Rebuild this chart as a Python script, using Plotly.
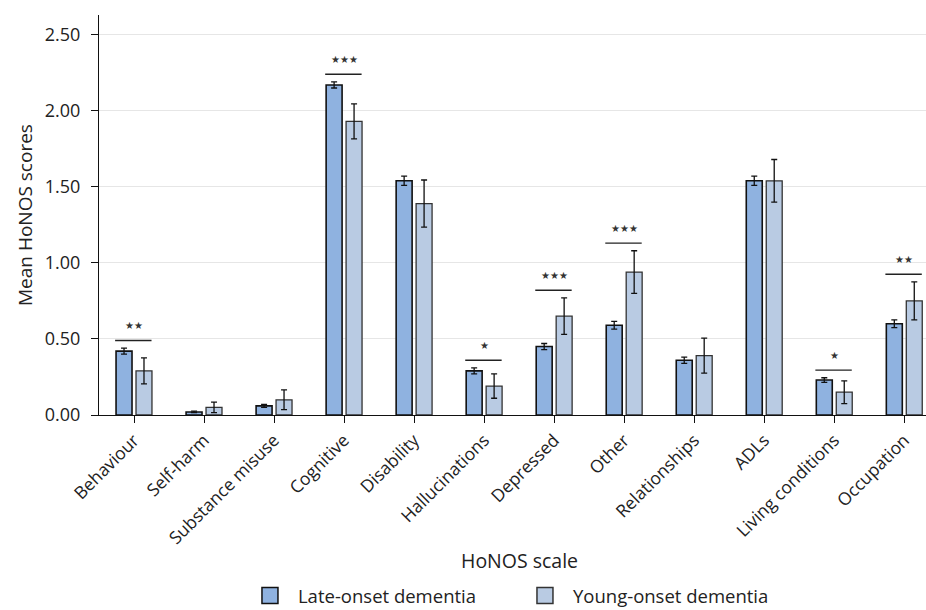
import plotly.graph_objects as go

categories = ["Behaviour", "Self-harm", "Substance misuse", "Cognitive", "Disability",
              "Hallucinations", "Depressed", "Other", "Relationships", "ADLs",
              "Living conditions", "Occupation"]
late_mean = [0.42, 0.02, 0.06, 2.17, 1.54, 0.29, 0.45, 0.59, 0.36, 1.54, 0.23, 0.60]
late_err = [0.02, 0.005, 0.01, 0.02, 0.03, 0.02, 0.02, 0.025, 0.02, 0.03, 0.015, 0.025]
young_mean = [0.29, 0.05, 0.10, 1.93, 1.39, 0.19, 0.65, 0.94, 0.39, 1.54, 0.15, 0.75]
young_err = [0.085, 0.035, 0.065, 0.115, 0.155, 0.08, 0.12, 0.14, 0.115, 0.14, 0.075, 0.125]
sig_categories = ["Behaviour", "Cognitive", "Hallucinations", "Depressed", "Other",
                  "Living conditions", "Occupation"]
sig_labels = ["★★", "★★★", "★", "★★★", "★★★", "★", "★★"]
y_ticks = [0.0, 0.5, 1.0, 1.5, 2.0, 2.5]

FONT = "Open Sans"
TXT = "#222222"
LATE_COLOR = "#8FB2E0"
YOUNG_COLOR = "#B9CBE3"

fig = go.Figure()
fig.add_trace(go.Bar(
    name="Late-onset dementia", x=categories, y=late_mean, showlegend=False,
    marker=dict(color=LATE_COLOR, line=dict(color="#111111", width=1.6)),
    error_y=dict(type="data", array=late_err, color="#111111", thickness=1.3, width=3),
))
fig.add_trace(go.Bar(
    name="Young-onset dementia", x=categories, y=young_mean, showlegend=False,
    marker=dict(color=YOUNG_COLOR, line=dict(color="#333333", width=1.3)),
    error_y=dict(type="data", array=young_err, color="#111111", thickness=1.3, width=3),
))
# legend-only entries (bigger square swatches)
for nm, col, lc in [("Late-onset dementia", LATE_COLOR, "#111111"),
                    ("Young-onset dementia", YOUNG_COLOR, "#333333")]:
    fig.add_trace(go.Scatter(x=[None], y=[None], mode="markers", name=nm,
                             marker=dict(symbol="square", size=20, color=col,
                                         line=dict(color=lc, width=1.5))))

shapes = []
annotations = []
for cat, lab in zip(sig_categories, sig_labels):
    i = categories.index(cat)
    top = max(late_mean[i] + late_err[i], young_mean[i] + young_err[i]) + 0.05
    shapes.append(dict(type="line", xref="x", yref="y", x0=i - 0.27, x1=i + 0.25,
                       y0=top, y1=top, line=dict(color="#222222", width=1.4)))
    annotations.append(dict(x=i, y=top, xref="x", yref="y", text=lab, showarrow=False,
                            yanchor="bottom", yshift=7,
                            font=dict(family="DejaVu Sans", size=10, color="#333333")))

annotations.append(dict(text="HoNOS scale", xref="paper", yref="paper", x=0.508, y=-0.3625,
                        xanchor="center", yanchor="middle", showarrow=False,
                        font=dict(family=FONT, size=19.5, color=TXT)))
annotations.append(dict(text="Mean HoNOS scores", xref="paper", yref="paper", x=-0.0895, y=0.5,
                        xanchor="center", yanchor="middle", textangle=-90, showarrow=False,
                        font=dict(family=FONT, size=19, color=TXT)))

fig.update_layout(
    width=926, height=610,
    margin=dict(l=99, r=0, t=15, b=195, autoexpand=False),
    paper_bgcolor="white", plot_bgcolor="white",
    barmode="group", bargap=0.43, bargroupgap=0.2,
    font=dict(family=FONT, color=TXT),
    shapes=shapes, annotations=annotations,
    showlegend=True,
    legend=dict(orientation="h", x=0.5054, xanchor="center", y=-0.4525, yanchor="middle",
                font=dict(family=FONT, size=18.5, color=TXT),
                entrywidth=214, itemwidth=46, itemsizing="trace"),
    xaxis=dict(
        range=[-0.5, 11.31], automargin=False, showline=True, linecolor="#111111", linewidth=1.3,
        ticks="outside", ticklen=7, tickcolor="#111111", tickangle=-45,
        tickfont=dict(family=FONT, size=17.5, color=TXT),
        showgrid=False,
    ),
    yaxis=dict(
        range=[0, 2.63], tickvals=y_ticks, tickformat=".2f", automargin=False,
        showline=True, linecolor="#111111", linewidth=1.3,
        ticks="outside", ticklen=7, tickcolor="#111111", ticklabelstandoff=7,
        tickfont=dict(family=FONT, size=18, color=TXT),
        showgrid=True, gridcolor="#E6E6E6", gridwidth=1.2, zeroline=False,
    ),
)

fig.write_html("out.html", config={"displayModeBar": False},
               post_script="document.body.style.margin='0';")
